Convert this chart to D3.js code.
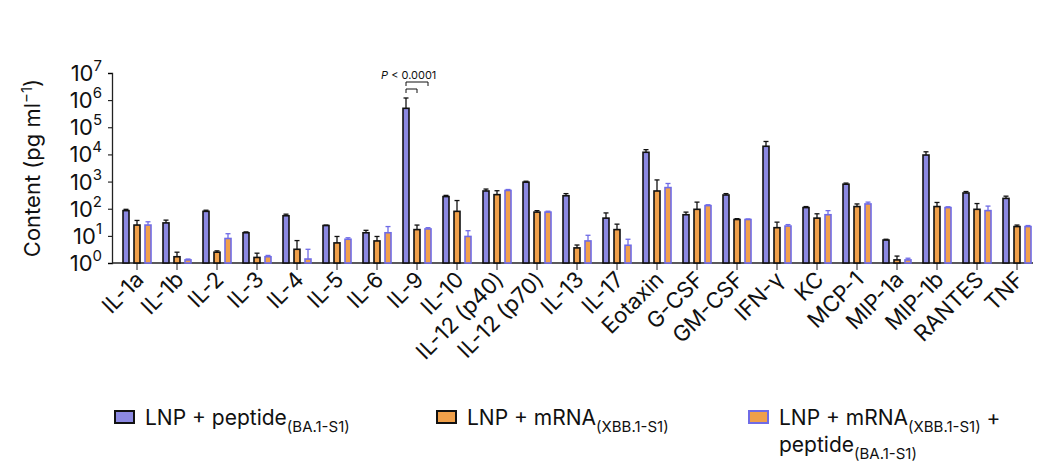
<!DOCTYPE html>
<html><head><meta charset="utf-8">
<script src="https://cdn.jsdelivr.net/npm/d3@7"></script>
<style>body{margin:0;background:#fff;font-family:Inter,"Noto Sans",sans-serif}</style>
</head><body><svg id="c" width="1037" height="463"></svg>
<script>
const cats = ['IL-1a','IL-1b','IL-2','IL-3','IL-4','IL-5','IL-6','IL-9','IL-10','IL-12 (p40)','IL-12 (p70)','IL-13','IL-17','Eotaxin','G-CSF','GM-CSF','IFN-γ','KC','MCP-1','MIP-1a','MIP-1b','RANTES','TNF'];
const peptide = [85,30,80,13,55,24,13,5e5,280,450,950,300,45,12000,60,320,20000,110,800,7,9500,380,240];
const peptideErr = [10,8,8,1,8,1,3,7e5,30,80,80,60,25,3000,15,40,10000,10,80,0.5,3000,50,50];
const mrna = [25,1.7,2.5,1.6,3.2,5.5,6.5,17,80,330,75,3.6,17,450,95,40,20,45,120,1.3,120,95,22];
const mrnaErr = [12,0.8,0.3,0.7,3.5,4,3,8,120,130,10,1,10,700,80,3,12,20,30,0.5,50,60,3];
const combo = [25,1.3,8,1.7,1.4,7.5,13,18,9.5,470,75,6.5,4.5,600,130,40,23,60,150,1.3,110,85,22];
const comboErr = [8,0.1,4,0.2,1.8,1,9,2,6,40,6,4,3,250,10,2,3,25,25,0.2,8,40,2];
const series = [
  {name:'peptide', v:peptide, e:peptideErr, fill:'#8c89e2', stroke:'#111', err:'#111'},
  {name:'mrna', v:mrna, e:mrnaErr, fill:'#f0a04a', stroke:'#111', err:'#111'},
  {name:'combo', v:combo, e:comboErr, fill:'#f0a04a', stroke:'#6f6be6', err:'#6f6be6'}
];
const svg = d3.select('#c');
const x = d3.scaleBand().domain(cats).range([117,1037]).paddingInner(0).paddingOuter(0);
const y = d3.scaleLog().domain([1,1e7]).range([263,73]);
const off = [-11,0,11], bw = 6;
const cx = c => x(c) + x.bandwidth()/2;

// y axis
const ya = svg.append('g').attr('transform','translate(112,0)')
  .call(d3.axisLeft(y).tickValues([1,10,100,1e3,1e4,1e5,1e6,1e7]).tickSize(4).tickFormat(''));
ya.select('.domain').attr('stroke','#222').attr('stroke-width',1.3);
[0,1,2,3,4,5,6,7].forEach(p => {
  const t = svg.append('text').attr('x',102).attr('y',y(10**p)+8).attr('text-anchor','end')
    .attr('font-size',22).attr('fill','#111');
  t.append('tspan').text('10');
  t.append('tspan').attr('dy',-10).attr('font-size',15).text(p);
});
const yl = svg.append('text').attr('transform','translate(40,168) rotate(-90)')
  .attr('text-anchor','middle').attr('font-size',22).attr('fill','#111');
yl.append('tspan').text('Content (pg ml');
yl.append('tspan').attr('dy',-8).attr('font-size',15).text('−1');
yl.append('tspan').attr('dy',8).text(')');

// x axis
const xa = svg.append('g').attr('transform','translate(0,263)')
  .call(d3.axisBottom(x).tickSize(7).tickSizeOuter(0).tickFormat(''));
xa.select('.domain').attr('d','M112,0H1033').attr('stroke','#222').attr('stroke-width',1.3);
xa.selectAll('.tick line').attr('stroke','#222');
cats.forEach(c => {
  svg.append('text').attr('transform',`translate(${cx(c)+8},${281}) rotate(-45)`)
    .attr('text-anchor','end').attr('font-size',22).attr('fill','#111').text(c);
});

// bars
series.forEach((s,i) => {
  const g = svg.append('g');
  cats.forEach((c,j) => {
    const bx = cx(c) + off[i];
    g.append('line').attr('x1',bx).attr('x2',bx).attr('y1',y(s.v[j])).attr('y2',y(s.v[j]+s.e[j]))
      .attr('stroke',s.err).attr('stroke-width',1.3);
    g.append('line').attr('x1',bx-2.5).attr('x2',bx+2.5).attr('y1',y(s.v[j]+s.e[j])).attr('y2',y(s.v[j]+s.e[j]))
      .attr('stroke',s.err).attr('stroke-width',1.3);
    g.append('rect').attr('x',bx-bw/2).attr('y',y(s.v[j])).attr('width',bw).attr('height',263-y(s.v[j]))
      .attr('fill',s.fill).attr('stroke',s.stroke).attr('stroke-width',1.6);
  });
});

// significance
const sx = cx('IL-9');
svg.append('path').attr('d',`M${sx-11},86V82H${sx+11}V86`).attr('fill','none').attr('stroke','#111').attr('stroke-width',1);
svg.append('path').attr('d',`M${sx-11},93V89H${sx}V93`).attr('fill','none').attr('stroke','#111').attr('stroke-width',1);
const pt = svg.append('text').attr('x',sx-36).attr('y',79).attr('font-size',11).attr('fill','#111');
pt.append('tspan').attr('font-style','italic').text('P');
pt.append('tspan').text(' < 0.0001');

// legend
const leg = [
  {x:115, fill:'#8c89e2', stroke:'#111', main:'LNP + peptide', sub:'(BA.1-S1)'},
  {x:437, fill:'#f0a04a', stroke:'#111', main:'LNP + mRNA', sub:'(XBB.1-S1)'},
  {x:749, fill:'#f0a04a', stroke:'#6f6be6', main:'LNP + mRNA', sub:'(XBB.1-S1)', extra:' +'}
];
leg.forEach(l => {
  svg.append('rect').attr('x',l.x).attr('y',411).attr('width',19).attr('height',12)
    .attr('fill',l.fill).attr('stroke',l.stroke).attr('stroke-width',2);
  const t = svg.append('text').attr('x',l.x+30).attr('y',425).attr('font-size',21).attr('fill','#111');
  t.append('tspan').text(l.main);
  t.append('tspan').attr('dy',7).attr('font-size',15).text(l.sub);
  if (l.extra) t.append('tspan').attr('dy',-7).text(l.extra);
});
const t2 = svg.append('text').attr('x',779).attr('y',452).attr('font-size',21).attr('fill','#111');
t2.append('tspan').text('peptide');
t2.append('tspan').attr('dy',7).attr('font-size',15).text('(BA.1-S1)');
</script></body></html>
